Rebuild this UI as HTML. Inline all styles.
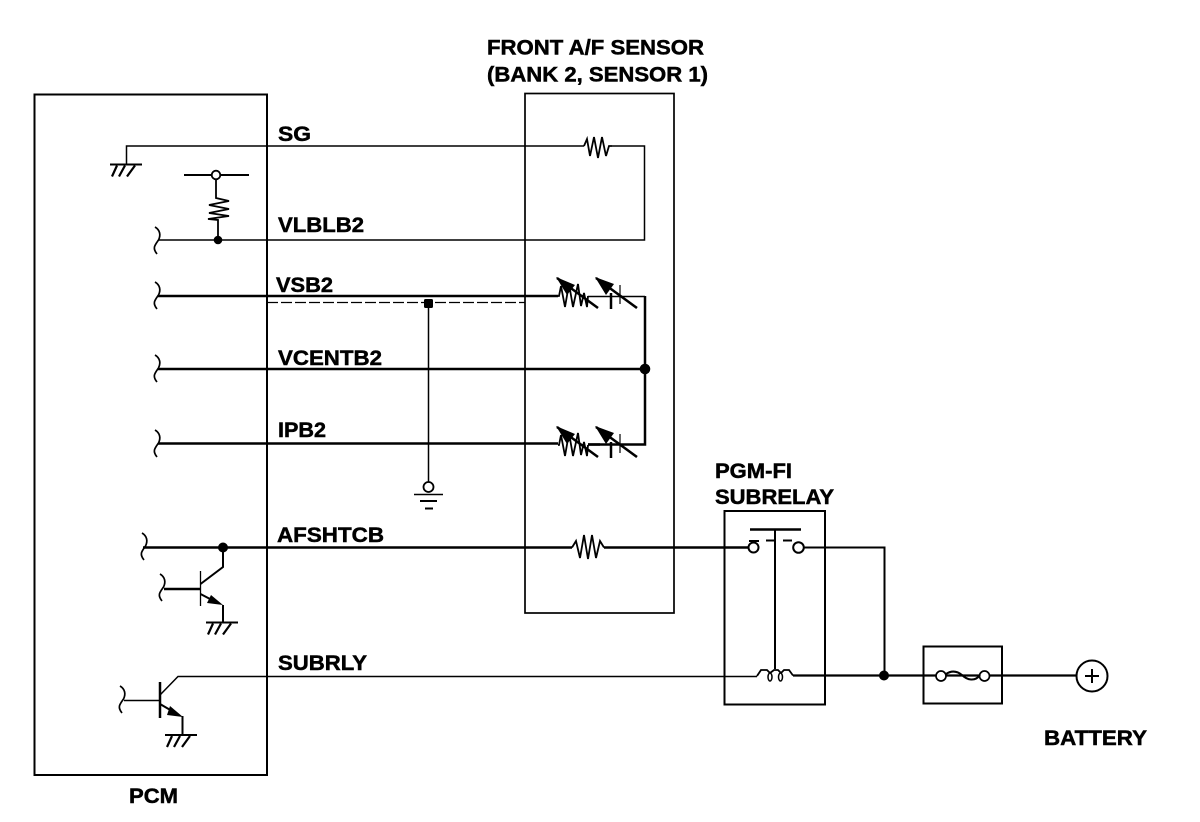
<!DOCTYPE html>
<html><head><meta charset="utf-8"><style>html,body{margin:0;padding:0;background:#fff}svg{display:block}text{font-family:"Liberation Sans",sans-serif;font-weight:bold;font-size:21.5px;fill:#000;stroke:#000;stroke-width:.5}</style></head><body>
<svg width="1200" height="822" viewBox="0 0 1200 822" fill="none" stroke="#000" stroke-width="1.5">
<defs>
<path id="sq" d="M0 0C5 3 6 8 3.500 13C0 18 -3 21 2 27" stroke-width="1.700"/>
<g id="gnd" stroke-width="2.200"><path d="M0 0H32" stroke-width="2"/><path d="M7 1L2 12M15 1L9 12M25 1L17 12"/></g>
<g id="var"><path d="M0 0H1L3 -10L7 11L11 -12L15 11L20 -12L23 10L26 -3L29 11L30 0" stroke-width="1.800"/><path d="M-1 -18L40 12" stroke-width="2.500"/><path d="M-2 -19L17 -11L9 -1Z" fill="#000" stroke="none"/><path d="M37 -19L56 -12L48 -1Z" fill="#000" stroke="none"/><path d="M38 -18L79 12" stroke-width="2.500"/><path d="M53 -3V13" stroke-width="2.500"/><path d="M62 -11V8" stroke-width="1.200"/></g>
</defs>
<rect x="34.500" y="94.500" width="232.500" height="680.500" stroke-width="2"/>
<rect x="525" y="93.500" width="149" height="519.500" stroke-width="1.700"/>
<rect x="724.500" y="511" width="100.500" height="193.500" stroke-width="2"/>
<rect x="923.500" y="646.500" width="78.500" height="57" stroke-width="2"/>

<path d="M126.500 164V146H584M612 146H644.500V240H158" stroke-width="1.500"/>
<use href="#gnd" x="110" y="164.500"/>
<path d="M584 146L587 139L590 156L594 137L598 158L602 137L606 156L609 146H612" stroke-width="1.800"/>
<path d="M184 175H212M221 175H249" stroke-width="2"/><circle cx="216" cy="175" r="4.300" fill="#fff" stroke-width="1.800"/>
<path d="M216 179.500V198L229 201L209 205L229 209L209 213L229 216L208 219L218 220V240" stroke-width="1.800"/>
<circle cx="218" cy="240" r="4.300" fill="#000" stroke="none"/>
<use href="#sq" x="155" y="227"/>

<path d="M158 296H558M158 369H645M158 443.500H558" stroke-width="2.500"/>
<use href="#sq" x="155" y="282"/><use href="#sq" x="155" y="355"/><use href="#sq" x="155" y="430"/>
<path d="M267 302.500H525" stroke-dasharray="11 3" stroke-width="1.200"/>
<rect x="424" y="299" width="9" height="9" rx="1.500" fill="#000" stroke="none"/>
<path d="M428.500 305V482" stroke-width="1.500"/>
<circle cx="428.500" cy="487" r="5" fill="#fff" stroke-width="1.800"/>
<path d="M414 494.500H443" stroke-width="1.500"/><path d="M420 501H437" stroke-width="2"/><path d="M425 508.500H433" stroke-width="2"/>

<use href="#var" x="558" y="296"/>
<use href="#var" x="558" y="445"/>
<path d="M588 296.500H645" stroke-width="1.500"/>
<path d="M588 444.500H600" stroke-width="2.500"/>
<path d="M645 296V444.500H588" stroke-width="2.500"/>
<circle cx="645" cy="369" r="5.300" fill="#000" stroke="none"/>

<path d="M143 547.500H572M604 547.500H748" stroke-width="2.500"/>
<path d="M572 547.500L576 541L580 558L584 535L588 559L592 535L596 558L600 541L604 547.500" stroke-width="1.800"/>
<use href="#sq" x="142" y="533"/>
<circle cx="223" cy="547.500" r="5" fill="#000" stroke="none"/>
<path d="M223 547V567L200.500 584" stroke-width="2"/>
<path d="M200.500 571V606" stroke-width="1.300"/>
<path d="M164 589H200" stroke-width="2.500"/>
<use href="#sq" x="160" y="574"/>
<path d="M200.500 594L212 600M223 605V622" stroke-width="2"/>
<path d="M211 595L223 605L207 603Z" fill="#000" stroke="none"/>
<use href="#gnd" x="206" y="622.500"/>

<path d="M757 676.500H178L160 695" stroke-width="1.500"/>
<path d="M160 682V718" stroke-width="2.500"/>
<path d="M124 700.500H160" stroke-width="1.500"/>
<use href="#sq" x="120" y="686"/>
<path d="M160 704L172 711M182.500 716V735" stroke-width="2"/>
<path d="M170 706L183 717L167 715Z" fill="#000" stroke="none"/>
<use href="#gnd" x="165" y="735"/>

<path d="M750 529.500H801" stroke-width="2.500"/>
<path d="M749 541H759M766 540.500H775M783 540.500H792" stroke-width="2"/>
<path d="M775 530V669" stroke-width="2"/>
<circle cx="753.500" cy="547.500" r="5" fill="#fff" stroke-width="2"/>
<circle cx="798.500" cy="547.500" r="5.300" fill="#fff" stroke-width="2"/>
<path d="M804 547.500H884.500V676" stroke-width="2"/>
<path d="M757 676L761 670H767L770 673L774 670H778L781 673L784 670H789L793 675.500" stroke-width="1.800"/>
<ellipse cx="770" cy="677" rx="2" ry="4" fill="#fff" stroke-width="1.500"/>
<ellipse cx="780.500" cy="677" rx="2" ry="4" fill="#fff" stroke-width="1.500"/>
<path d="M793 675.500H1077" stroke-width="2.300"/>
<circle cx="884" cy="675.500" r="5" fill="#000" stroke="none"/>
<circle cx="941" cy="676" r="5" fill="#fff" stroke-width="1.700"/>
<circle cx="984.500" cy="676" r="5" fill="#fff" stroke-width="1.700"/>
<path d="M946 674C952 670 957 671 962 675C967 680 975 682 980 675" stroke-width="2"/>
<circle cx="1092" cy="676" r="15.500" fill="#fff" stroke-width="2"/>
<path d="M1085 676H1099M1092 669V683" stroke-width="2"/>

<g>
<text x="487" y="54.500" textLength="217" lengthAdjust="spacingAndGlyphs">FRONT A/F SENSOR</text>
<text x="487" y="81.500" textLength="221" lengthAdjust="spacingAndGlyphs">(BANK 2, SENSOR 1)</text>
<text x="278" y="141" textLength="33" lengthAdjust="spacingAndGlyphs">SG</text>
<text x="278" y="232" textLength="86" lengthAdjust="spacingAndGlyphs">VLBLB2</text>
<text x="276" y="292" textLength="57" lengthAdjust="spacingAndGlyphs">VSB2</text>
<text x="278" y="365" textLength="104" lengthAdjust="spacingAndGlyphs">VCENTB2</text>
<text x="278" y="437" textLength="48" lengthAdjust="spacingAndGlyphs">IPB2</text>
<text x="277" y="542" textLength="107" lengthAdjust="spacingAndGlyphs">AFSHTCB</text>
<text x="278" y="670" textLength="89" lengthAdjust="spacingAndGlyphs">SUBRLY</text>
<text x="129" y="803" textLength="49" lengthAdjust="spacingAndGlyphs">PCM</text>
<text x="715" y="478" textLength="77" lengthAdjust="spacingAndGlyphs">PGM-FI</text>
<text x="715" y="504" textLength="119" lengthAdjust="spacingAndGlyphs">SUBRELAY</text>
<text x="1044" y="745" textLength="103" lengthAdjust="spacingAndGlyphs">BATTERY</text>
</g>
</svg>
</body></html>
